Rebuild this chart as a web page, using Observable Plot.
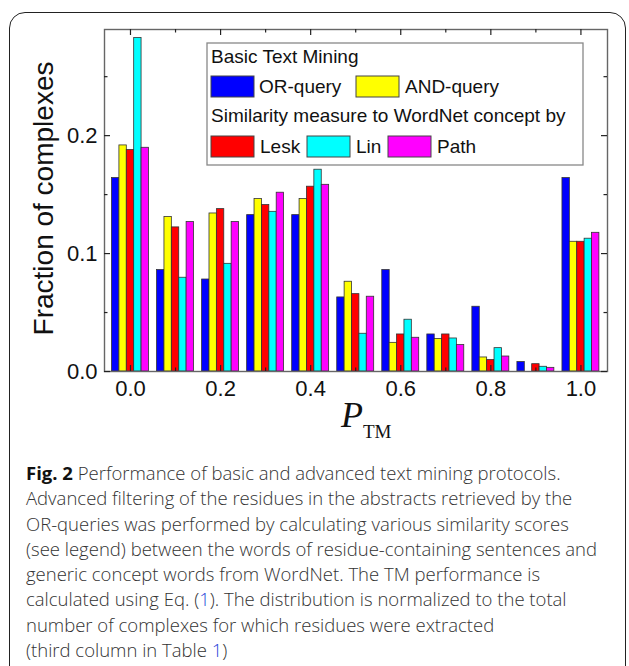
<!DOCTYPE html>
<html><head><meta charset="utf-8">
<script src="https://cdn.jsdelivr.net/npm/d3@7"></script>
<script src="https://cdn.jsdelivr.net/npm/@observablehq/plot@0.6"></script>
<style>
body{margin:0;background:#fff;width:629px;height:666px;overflow:hidden;position:relative;font-family:"Liberation Sans",Arial,sans-serif}
#box{position:absolute;left:9px;top:12px;width:617px;height:720px;border:1.5px solid #222;border-radius:16px;box-sizing:border-box}
#chart{position:absolute;left:0;top:0}
#caption{position:absolute;left:26px;top:460px;font-family:"Open Sans",sans-serif;font-size:18.5px;line-height:25.3px;color:#333;white-space:nowrap;font-weight:300}
#caption b{font-weight:700;color:#111}
#caption .ln{color:#2a3fd9}
</style></head>
<body>
<div id="box"></div>
<div id="chart"></div>
<div id="caption"></div>
<script>
// ---- data ----
const bins = [0.0, 0.1, 0.2, 0.3, 0.4, 0.5, 0.6, 0.7, 0.8, 0.9, 1.0];
const seriesNames = ["OR-query", "AND-query", "Lesk", "Lin", "Path"];
const seriesColors = ["#0000ff", "#ffff00", "#ff0000", "#00ffff", "#ff00ff"];
const orQuery  = [0.164, 0.086, 0.078, 0.1326, 0.1326, 0.0628, 0.086, 0.0314, 0.0549, 0.008, 0.164];
const andQuery = [0.1917, 0.131, 0.134, 0.1462, 0.1462, 0.0761, 0.0243, 0.0275, 0.0119, 0.0, 0.110];
const lesk     = [0.1878, 0.1222, 0.1377, 0.1411, 0.1567, 0.0656, 0.0314, 0.0314, 0.0097, 0.0062, 0.110];
const lin      = [0.2828, 0.0795, 0.0913, 0.1354, 0.1711, 0.032, 0.0439, 0.028, 0.0198, 0.004, 0.1126];
const pathSim  = [0.1897, 0.1267, 0.1267, 0.1516, 0.1583, 0.0634, 0.0286, 0.0224, 0.0127, 0.0031, 0.1176];
const xTickLabels = [0.0, 0.2, 0.4, 0.6, 0.8, 1.0];
const xMinorTicks = [0.1, 0.3, 0.5, 0.7, 0.9];
const yTickLabels = [0.0, 0.1, 0.2];
const yMinorTicks = [0.05, 0.15, 0.25];
const yTitle = "Fraction of complexes";
const legendTitle1 = "Basic Text Mining";
const legendTitle2 = "Similarity measure to WordNet concept by";
const captionLines = [
  "<b>Fig. 2</b> Performance of basic and advanced text mining protocols.",
  "Advanced filtering of the residues in the abstracts retrieved by the",
  "OR-queries was performed by calculating various similarity scores",
  "(see legend) between the words of residue-containing sentences and",
  "generic concept words from WordNet. The TM performance is",
  "calculated using Eq. (<span class='ln'>1</span>). The distribution is normalized to the total",
  "number of complexes for which residues were extracted",
  "(third column in Table <span class='ln'>1</span>)"
];

const allSeries = [orQuery, andQuery, lesk, lin, pathSim];
const data = [];
bins.forEach((b, j) => allSeries.forEach((arr, i) => data.push({bin: b, i, series: seriesNames[i], value: arr[j]})));

const W = 629, H = 470;
const mT = 29, mB = H - 371, mL = 104, mR = 22;
const innerH = H - mT - mB, innerW = W - mL - mR;
const bw = 0.0164;

const plot = Plot.plot({
  width: W, height: H,
  marginTop: mT, marginBottom: mB, marginLeft: mL, marginRight: mR,
  x: {domain: [-0.0577, 1.059], axis: null},
  y: {domain: [0, 0.29], axis: null},
  color: {domain: seriesNames, range: seriesColors},
  style: {fontFamily: "'Liberation Sans', Arial, sans-serif", background: "transparent", color: "#000"},
  marks: [
    Plot.rectY(data, {x1: d => d.bin + (d.i - 2.5) * bw, x2: d => d.bin + (d.i - 1.5) * bw, y1: 0, y2: "value", fill: "series", stroke: "#333", strokeWidth: 0.8}),
    Plot.frame({stroke: "#666", strokeWidth: 1.4}),
    Plot.ruleX(xTickLabels, {x: d => d, insetTop: innerH - 6, stroke: "#222", strokeWidth: 1.2}),
    Plot.ruleX(xTickLabels, {x: d => d, insetBottom: innerH - 6, stroke: "#222", strokeWidth: 1.2}),
    Plot.ruleX(xMinorTicks, {x: d => d, insetTop: innerH - 3.5, stroke: "#222", strokeWidth: 1.2}),
    Plot.ruleX(xMinorTicks, {x: d => d, insetBottom: innerH - 3.5, stroke: "#222", strokeWidth: 1.2}),
    Plot.ruleY(yTickLabels, {y: d => d, insetRight: innerW - 6, stroke: "#222", strokeWidth: 1.2}),
    Plot.ruleY(yTickLabels, {y: d => d, insetLeft: innerW - 6, stroke: "#222", strokeWidth: 1.2}),
    Plot.ruleY(yMinorTicks, {y: d => d, insetRight: innerW - 3.5, stroke: "#222", strokeWidth: 1.2}),
    Plot.ruleY(yMinorTicks, {y: d => d, insetLeft: innerW - 3.5, stroke: "#222", strokeWidth: 1.2}),
    Plot.axisX(xTickLabels, {anchor: "bottom", label: null, tickSize: 0, tickPadding: 9, tickFormat: d3.format(".1f"), fontSize: 22, fill: "#111"}),
    Plot.axisY(yTickLabels, {anchor: "left", label: null, tickSize: 0, tickPadding: 7, tickFormat: d3.format(".1f"), fontSize: 22, fill: "#111"}),
    Plot.text([yTitle], {frameAnchor: "left", dx: -60, dy: -2, rotate: -90, textAnchor: "middle", lineAnchor: "middle", fontSize: 28, fill: "#111"}),
    Plot.text(["P"], {frameAnchor: "bottom", dx: 7, dy: 55, textAnchor: "end", lineAnchor: "bottom", fontFamily: "'Liberation Serif', 'Times New Roman', serif", fontStyle: "italic", fontSize: 36, fill: "#111"}),
    Plot.text(["TM"], {frameAnchor: "bottom", dx: 7, dy: 66, textAnchor: "start", lineAnchor: "bottom", fontFamily: "'Liberation Serif', 'Times New Roman', serif", fontSize: 19, fill: "#111"})
  ]
});
document.getElementById("chart").appendChild(plot);

// ---- legend overlay (inside plot area, top right) ----
const svg = d3.select(plot);
const lg = svg.append("g").attr("transform", "translate(207,43)").attr("text-anchor", "start");
lg.append("rect").attr("width", 376).attr("height", 122).attr("fill", "#fff").attr("stroke", "#888").attr("stroke-width", 1.3);
const tstyle = sel => sel.attr("font-family", "'Liberation Sans', Arial, sans-serif").attr("font-size", 19).attr("fill", "#111").attr("text-anchor", "start");
lg.append("text").attr("x", 4).attr("y", 20).text(legendTitle1).call(tstyle);
lg.append("text").attr("x", 4).attr("y", 79).text(legendTitle2).call(tstyle);
const items = [
  {i: 0, sx: 4, tx: 52, sy: 33, ty: 50},
  {i: 1, sx: 149, tx: 198, sy: 33, ty: 50},
  {i: 2, sx: 4, tx: 53, sy: 93, ty: 110},
  {i: 3, sx: 100, tx: 149, sy: 93, ty: 110},
  {i: 4, sx: 181, tx: 230, sy: 93, ty: 110}
];
const colorScale = plot.scale("color");
items.forEach(it => {
  lg.append("rect").attr("x", it.sx).attr("y", it.sy).attr("width", 43).attr("height", 21)
    .attr("fill", colorScale.apply(seriesNames[it.i])).attr("stroke", "#444").attr("stroke-width", 1);
  lg.append("text").attr("x", it.tx).attr("y", it.ty).text(seriesNames[it.i]).call(tstyle);
});

document.getElementById("caption").innerHTML = captionLines.join("<br>");
</script>
</body></html>
